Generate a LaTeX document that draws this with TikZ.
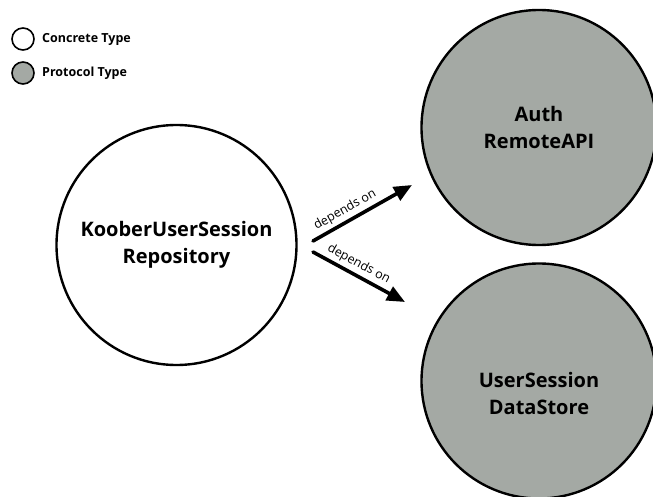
\documentclass[tikz,border=0pt]{standalone}
\usepackage{fontspec}
\setmainfont{Open Sans}
\usetikzlibrary{arrows.meta}
\definecolor{protogray}{RGB}{164,169,164}
\tikzset{
  concrete/.style={circle,draw,line width=2.4pt,fill=white,inner sep=0pt,
    minimum size=240pt,align=center,font=\fontsize{20}{27}\selectfont\bfseries},
  protocol/.style={concrete,fill=protogray,minimum size=235pt},
  legend/.style={circle,draw,line width=1.6pt,inner sep=0pt,minimum size=22pt},
  legendtext/.style={right,inner sep=0pt,font=\fontsize{12.5}{15}\selectfont\bfseries},
  depends/.style={line width=3.6pt,line cap=round,-{Triangle[length=18pt,width=15pt]}},
  deplabel/.style={above,sloped,inner sep=3pt,font=\fontsize{12.5}{15}\selectfont}
}
\begin{document}
\begin{tikzpicture}[x=1pt,y=-1pt]
\useasboundingbox (0,0) rectangle (653,497);
\clip (0,0) rectangle (653,497);
\node[legend] (conc) at (23,39) {};
\node[legendtext] (conctext) at (42,39) {Concrete Type};
\node[legend,fill=protogray] (proto) at (23,73) {};
\node[legendtext] (prototext) at (42,73) {Protocol Type};
\node[concrete] (repo) at (176.5,245) {KooberUserSession\\Repository};
\node[protocol] (auth) at (539,127.5) {Auth\\RemoteAPI};
\node[protocol] (store) at (539,381) {};
\node[align=center,font=\fontsize{20}{27}\selectfont\bfseries] (storetext) at (539,393) {UserSession\\DataStore};
\coordinate (authstart) at (313,241);
\coordinate (authend) at (412,185);
\coordinate (storestart) at (313,252);
\coordinate (storeend) at (405,302);
\draw[depends] (authstart) -- node[deplabel,pos=0.38]{depends on} (authend);
\draw[depends] (storestart) -- node[deplabel,pos=0.44]{depends on} (storeend);
\end{tikzpicture}
\end{document}
